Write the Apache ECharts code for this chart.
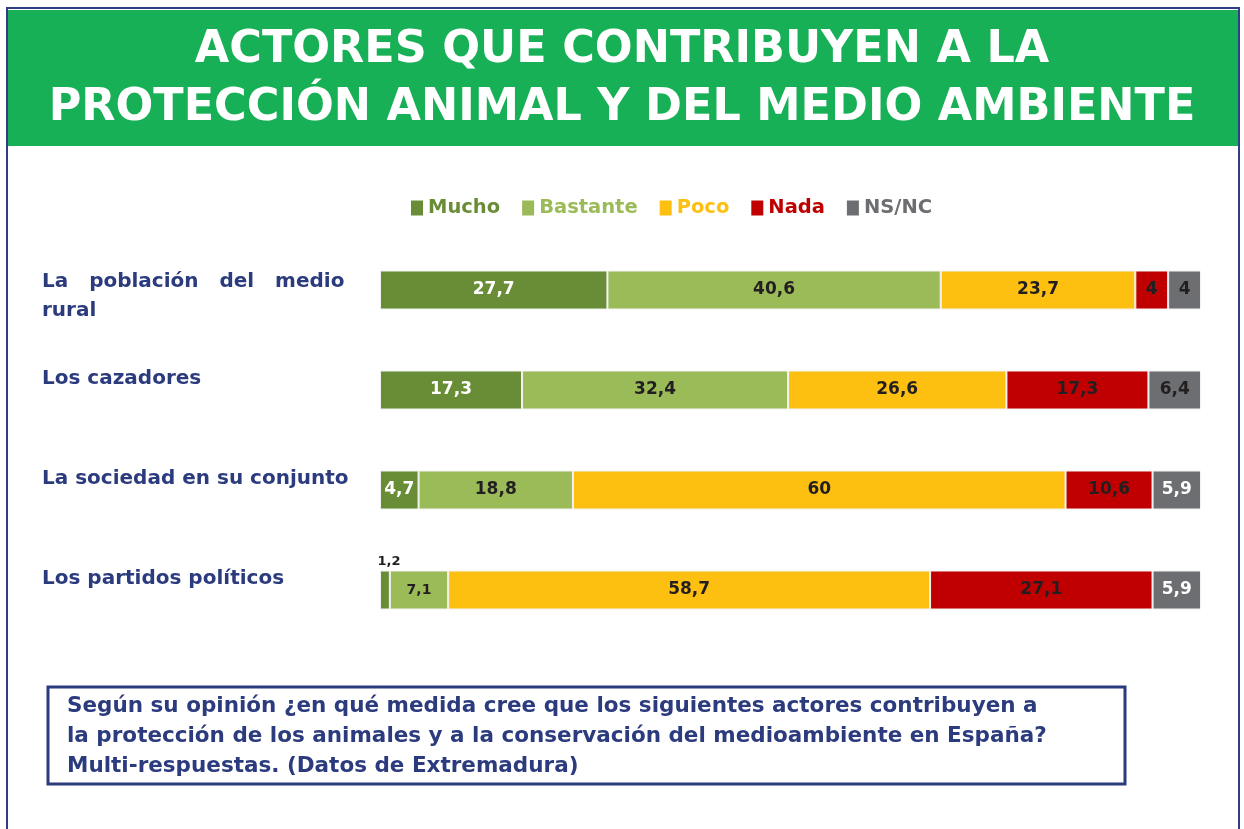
<!DOCTYPE html>
<html>
<head>
<meta charset="utf-8">
<script src="https://cdn.jsdelivr.net/npm/echarts@6/dist/echarts.min.js"></script>
<style>
html,body{margin:0;padding:0;background:#fff;}
#chart{width:1244px;height:829px;}
</style>
</head>
<body>
<div id="chart"></div>
<script>
const categories = ['La   población   del   medio\nrural', 'Los cazadores', 'La sociedad en su conjunto', 'Los partidos políticos'];
const seriesNames = ['Mucho', 'Bastante', 'Poco', 'Nada', 'NS/NC'];
const mucho = [27.7, 17.3, 4.7, 1.2];
const bastante = [40.6, 32.4, 18.8, 7.1];
const poco = [23.7, 26.6, 60, 58.7];
const nada = [4, 17.3, 10.6, 27.1];
const nsnc = [4, 6.4, 5.9, 5.9];
const titleText = 'ACTORES QUE CONTRIBUYEN A LA\nPROTECCIÓN ANIMAL Y DEL MEDIO AMBIENTE';
const noteText = 'Según su opinión ¿en qué medida cree que los siguientes actores contribuyen a\nla protección de los animales y a la conservación del medioambiente en España?\nMulti-respuestas. (Datos de Extremadura)';

const colors = ['#688d36', '#9bbb59', '#fdc010', '#c00000', '#6d6e71'];
const navy = '#2b3b7e';
const dark = '#231f20';
const FONT = 'DejaVu Sans';

const values = [mucho, bastante, poco, nada, nsnc];
const labelColor = [
  ['#fff', '#fff', '#fff', dark],
  [dark, dark, dark, dark],
  [dark, dark, dark, dark],
  [dark, dark, dark, dark],
  [dark, dark, '#fff', '#fff']
];

const series = values.map((arr, s) => ({
  name: seriesNames[s],
  type: 'bar',
  stack: 'total',
  barWidth: 39,
  itemStyle: { color: colors[s], borderColor: '#f2f2f2', borderWidth: 1 },
  label: {
    show: true,
    position: 'inside',
    fontFamily: FONT,
    fontWeight: 'bold',
    fontSize: 17,
    formatter: p => String(p.value).replace('.', ',')
  },
  data: arr.map((v, i) => {
    const lab = { color: labelColor[s][i] };
    if (s === 0 && i === 3) { lab.position = 'top'; lab.fontSize = 13; lab.offset = [4, 3]; }
    if (s === 1 && i === 3) { lab.fontSize = 14; }
    return { value: v, label: lab };
  })
}));

const chart = echarts.init(document.getElementById('chart'));
chart.setOption({
  animation: false,
  title: {
    text: titleText,
    left: 'center',
    top: 16,
    textStyle: { color: '#fff', fontSize: 44.5, fontWeight: 'bold', fontFamily: FONT, lineHeight: 58 }
  },
  legend: {
    left: 406,
    top: 193,
    icon: 'rect',
    itemWidth: 12,
    itemHeight: 15,
    itemGap: 22,
    selectedMode: false,
    itemStyle: { borderWidth: 0 },
    textStyle: { fontFamily: FONT, fontWeight: 'bold', fontSize: 19.5 },
    data: seriesNames.map((n, i) => ({ name: n, textStyle: { color: colors[i] } }))
  },
  grid: { left: 380, right: 43, top: 240, bottom: 189 },
  xAxis: { type: 'value', min: 0, max: 100, show: false },
  yAxis: {
    type: 'category',
    inverse: true,
    data: categories,
    axisLine: { show: false },
    axisTick: { show: false },
    axisLabel: {
      align: 'left',
      margin: 338,
      formatter: v => v.indexOf('\n') >= 0 ? '{a|' + v.replace('\n', '}\n{a|') + '}' : '{b|' + v + '}',
      rich: {
        a: { fontFamily: FONT, fontWeight: 'bold', fontSize: 20, color: navy, lineHeight: 29, padding: [12, 0, 0, 0] },
        b: { fontFamily: FONT, fontWeight: 'bold', fontSize: 20, color: navy, padding: [0, 0, 22, 0] }
      }
    }
  },
  graphic: [
    { type: 'rect', z: -10, shape: { x: 7, y: 8, width: 1232, height: 840 }, style: { fill: '#fff', stroke: '#2e3f85', lineWidth: 2 } },
    { type: 'rect', z: -9, shape: { x: 8, y: 10, width: 1230, height: 136 }, style: { fill: '#18b056' } },
    { type: 'rect', z: -9, shape: { x: 48, y: 687, width: 1077, height: 97 }, style: { fill: '#fff', stroke: navy, lineWidth: 3 } },
    { type: 'text', z: 5, x: 67, y: 691, style: { text: noteText, fill: navy, font: 'bold 21.5px "DejaVu Sans"', lineHeight: 30 } }
  ],
  series: series
});
</script>
</body>
</html>
